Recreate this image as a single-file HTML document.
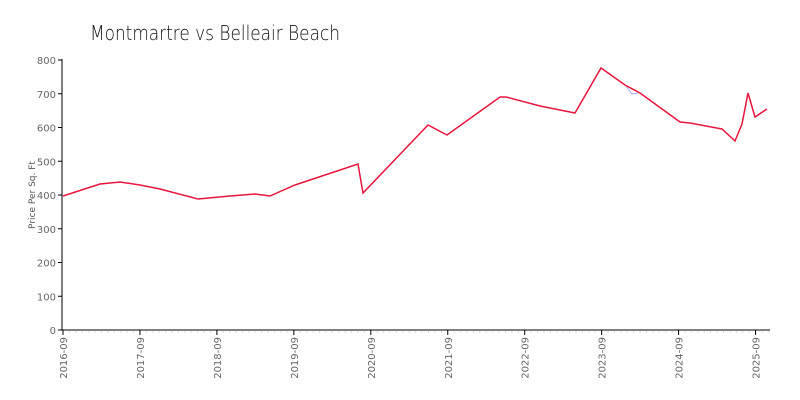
<!DOCTYPE html>
<html><head><meta charset="utf-8"><style>
body{margin:0;background:#fff;}
svg{display:block;font-family:"DejaVu Sans","Liberation Sans",sans-serif;}
</style></head><body>
<svg id="s" width="800" height="400" xmlns="http://www.w3.org/2000/svg">
<rect width="800" height="400" fill="#fff"/>
<text x="90" y="40" font-size="20" fill="#111" font-weight="200" style="font-family:'DejaVu Sans',sans-serif" textLength="250" lengthAdjust="spacingAndGlyphs">Montmartre vs Belleair Beach</text>
<text transform="translate(35,195) rotate(-90)" font-size="9" fill="#555" text-anchor="middle">Price Per Sq. Ft</text>
<g id="ax"></g>
<polyline fill="none" stroke="#a0a8ff" stroke-width="1" points="626,86 632,94 638,93"/>
<polyline fill="none" stroke="#e8163c" stroke-width="1.5" points="63,196 100,184 120,182 140,185 160,189 198,199 230,196 255,194 270,196 295,185 358,164 363,193 428,125 447,135 500,97 506,97 540,106 575,113 601,68 625,85 640,93 680,122 690,123 722,129 735,141 742,124 748,93 755,117 767,109"/>
</svg>
<script>
var g=document.getElementById('ax'),h='';
h+='<line x1="62" y1="59" x2="62" y2="330" stroke="#000"/>';
h+='<line x1="62" y1="330" x2="770" y2="330" stroke="#000"/>';
for(var i=0;i<=8;i++){var y=330-i*33.75;h+='<line x1="58" y1="'+y+'" x2="62" y2="'+y+'" stroke="#000"/><text x="56" y="'+(y+4)+'" font-size="10" fill="#666" text-anchor="end">'+(i*100)+'</text>';}
for(var m=0;m<=112;m++){var x=63+m*76.95/12;if(x>770)break;
 if(m%12==0){h+='<line x1="'+x+'" y1="330" x2="'+x+'" y2="335" stroke="#000"/><text transform="translate('+(x+4)+',337) rotate(-90)" font-size="10" fill="#666" text-anchor="end">'+(2016+m/12)+'-09</text>';}
 else h+='<line x1="'+x+'" y1="331" x2="'+x+'" y2="333" stroke="#ddd"/>';}
g.innerHTML=h;
</script>
</body></html>
